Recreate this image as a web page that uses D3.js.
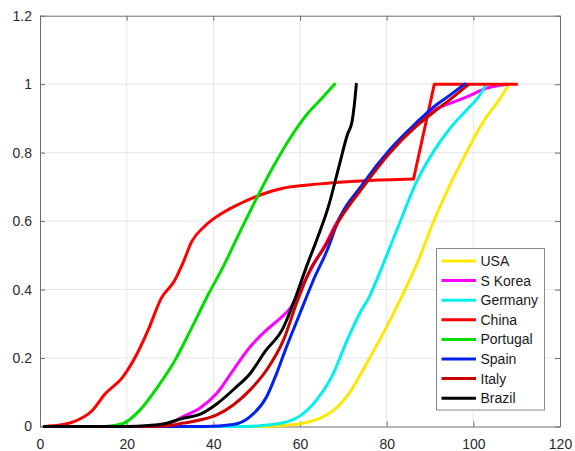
<!DOCTYPE html>
<html>
<head>
<meta charset="utf-8">
<script src="https://cdnjs.cloudflare.com/ajax/libs/d3/7.8.5/d3.min.js"></script>
<style>
  body { margin: 0; background: #fff; }
  #chart { width: 575px; height: 451px; }
</style>
</head>
<body>
<div id="chart"></div>
<script>
// days since start and normalised cumulative value
let usaDays = [1, 52, 56, 60, 63.8, 67.7, 71.5, 75.4, 79.2, 83.1, 86.9, 90.8, 94.6, 98.5, 102.3, 106.2, 108.1];
let usaVals = [0, 0, 0.003, 0.008, 0.02, 0.047, 0.1, 0.185, 0.272, 0.37, 0.472, 0.598, 0.706, 0.803, 0.89, 0.959, 0.997];

let koreaDays = [1, 25, 29, 33, 35.4, 37, 40.8, 44.6, 48.5, 52.3, 55.4, 57.7, 60, 63.1, 66.2, 68, 74.6, 80.8, 86.9, 91, 94.6, 98.5, 103, 107.7];
let koreaVals = [0, 0, 0.005, 0.029, 0.043, 0.055, 0.097, 0.165, 0.233, 0.282, 0.316, 0.345, 0.399, 0.472, 0.54, 0.585, 0.708, 0.806, 0.883, 0.925, 0.944, 0.963, 0.988, 1];

let germanyDays = [1, 48, 52, 56.2, 60, 63.8, 67.7, 70.8, 73.8, 76.2, 77.7, 80, 83.1, 86.9, 90.8, 94.6, 98.5, 101.5, 102.7];
let germanyVals = [0, 0, 0.004, 0.011, 0.031, 0.077, 0.155, 0.25, 0.331, 0.384, 0.428, 0.5, 0.598, 0.715, 0.803, 0.871, 0.925, 0.968, 0.993];

let chinaDays = [1, 3, 5, 8, 12, 15, 19, 22, 25, 28, 31, 33, 35, 38, 42, 46, 51, 56, 64, 75, 86.2, 91, 110];
let chinaVals = [0, 0.002, 0.005, 0.015, 0.046, 0.095, 0.143, 0.203, 0.283, 0.375, 0.425, 0.478, 0.54, 0.585, 0.623, 0.65, 0.677, 0.696, 0.708, 0.718, 0.723, 1, 1];

let portugalDays = [1, 15, 19, 23, 27, 31, 35, 39, 42, 46, 50, 54, 58, 62, 65, 68];
let portugalVals = [0, 0, 0.008, 0.047, 0.113, 0.19, 0.288, 0.39, 0.46, 0.565, 0.667, 0.763, 0.848, 0.918, 0.958, 1];

let spainDays = [1, 38, 44.6, 48.5, 52.3, 54.6, 56.9, 60, 63.1, 66.9, 68, 74.6, 80.8, 86.9, 91, 94.6, 98];
let spainVals = [0, 0, 0.006, 0.029, 0.087, 0.155, 0.233, 0.331, 0.428, 0.535, 0.575, 0.71, 0.81, 0.888, 0.935, 0.968, 1];

let italyDays = [1, 25, 29.2, 33.1, 36.9, 40.8, 44.6, 48.5, 52.3, 56.2, 59.2, 62.3, 66.2, 68, 74.6, 80.8, 86.9, 91, 94.6, 98.8];
let italyVals = [0, 0, 0.002, 0.01, 0.019, 0.034, 0.063, 0.107, 0.165, 0.253, 0.36, 0.457, 0.535, 0.58, 0.7, 0.8, 0.878, 0.92, 0.955, 0.998];

let brazilDays = [1, 20, 25, 29, 33, 37, 41, 45, 48.5, 52, 56, 59, 61.5, 64, 66.5, 69, 71, 72, 72.5, 73];
let brazilVals = [0, 0, 0.003, 0.009, 0.024, 0.036, 0.068, 0.112, 0.155, 0.22, 0.285, 0.378, 0.467, 0.55, 0.64, 0.76, 0.855, 0.89, 0.935, 1];

let countries = ["USA", "S Korea", "Germany", "China", "Portugal", "Spain", "Italy", "Brazil"];
let xTicks = [0, 20, 40, 60, 80, 100, 120];
let yTicks = [0, 0.2, 0.4, 0.6, 0.8, 1, 1.2];

function drawChart() {
  var W = 575,
    H = 451;
  var margin = { top: 15.7, right: 15, bottom: 24.5, left: 40 },
    width = W - margin.left - margin.right,
    height = H - margin.top - margin.bottom;

  // sharpFrom: index after which the line is drawn straight (China's step to 1)
  var series = [
    { name: "USA", days: usaDays, vals: usaVals, color: "#ffe800" },
    { name: "S Korea", days: koreaDays, vals: koreaVals, color: "#ff00ff" },
    { name: "Germany", days: germanyDays, vals: germanyVals, color: "#00f0f0" },
    { name: "China", days: chinaDays, vals: chinaVals, color: "#ff0000", sharpFrom: 20 },
    { name: "Portugal", days: portugalDays, vals: portugalVals, color: "#00dd00" },
    { name: "Spain", days: spainDays, vals: spainVals, color: "#0022ee" },
    { name: "Italy", days: italyDays, vals: italyVals, color: "#cc0000" },
    { name: "Brazil", days: brazilDays, vals: brazilVals, color: "#000000" }
  ];

  var svg = d3
    .select("#chart")
    .append("svg")
    .attr("width", W)
    .attr("height", H)
    .style("font-family", "'Liberation Sans', Arial, sans-serif")
    .append("g")
    .attr("transform", "translate(" + margin.left + "," + margin.top + ")");

  //////////
  // SCALES + GRID //
  //////////
  var x = d3.scaleLinear().domain([0, 120]).range([0, width]);
  var y = d3.scaleLinear().domain([0, 1.2]).range([height, 0]);

  svg
    .append("g")
    .selectAll("line")
    .data(xTicks.slice(1, -1))
    .enter()
    .append("line")
    .attr("x1", d => x(d))
    .attr("x2", d => x(d))
    .attr("y1", 0)
    .attr("y2", height)
    .style("stroke", "#e6e6e6");
  svg
    .append("g")
    .selectAll("line")
    .data(yTicks.slice(1, -1))
    .enter()
    .append("line")
    .attr("x1", 0)
    .attr("x2", width)
    .attr("y1", d => y(d))
    .attr("y2", d => y(d))
    .style("stroke", "#e6e6e6");

  //////////
  // AXES (ticks inside, box all round) //
  //////////
  function styleAxis(g) {
    g.select(".domain").style("stroke", "#6e6e6e");
    g.selectAll(".tick line").style("stroke", "#6e6e6e");
    g.selectAll(".tick text").style("fill", "#2a2a2a").style("font-size", "14px");
  }
  svg
    .append("g")
    .attr("transform", "translate(0," + height + ")")
    .call(d3.axisBottom(x).tickValues(xTicks).tickSizeInner(-5).tickSizeOuter(0).tickPadding(13))
    .call(styleAxis);
  svg
    .append("g")
    .call(d3.axisLeft(y).tickValues(yTicks).tickFormat(d3.format("~g")).tickSizeInner(-5).tickSizeOuter(0).tickPadding(8))
    .call(styleAxis);
  svg
    .append("g")
    .call(d3.axisTop(x).tickValues(xTicks).tickFormat("").tickSizeInner(-5).tickSizeOuter(0))
    .call(styleAxis);
  svg
    .append("g")
    .attr("transform", "translate(" + width + ",0)")
    .call(d3.axisRight(y).tickValues(yTicks).tickFormat("").tickSizeInner(-5).tickSizeOuter(0))
    .call(styleAxis);

  //////////
  // LINES //
  //////////
  var smooth = d3
    .line()
    .x(p => x(p[0]))
    .y(p => y(p[1]))
    .curve(d3.curveMonotoneX);
  var straight = d3
    .line()
    .x(p => x(p[0]))
    .y(p => y(p[1]));

  series.forEach(s => {
    var pts = s.days.map((d, i) => [d, s.vals[i]]);
    var paths = [pts];
    if (s.sharpFrom) {
      // smooth part then a straight step; join at the same point
      paths = [pts.slice(0, s.sharpFrom + 1), pts.slice(s.sharpFrom)];
    }
    paths.forEach((p, k) => {
      svg
        .append("path")
        .datum(p)
        .attr("d", k === 0 ? smooth : straight)
        .style("fill", "none")
        .style("stroke", s.color)
        .style("stroke-width", 3)
        .style("stroke-linejoin", "round")
        .style("stroke-linecap", "round");
    });
  });

  //////////
  // LEGEND //
  //////////
  var lx = 396.5,
    ly = 232.8,
    rowH = 19.6;
  var legend = svg.append("g").attr("transform", "translate(" + lx + "," + ly + ")");
  legend
    .append("rect")
    .attr("width", 108)
    .attr("height", 161.5)
    .style("fill", "#fff")
    .style("stroke", "#8a8a8a");
  var rows = legend
    .selectAll("g.row")
    .data(countries)
    .enter()
    .append("g")
    .attr("class", "row")
    .attr("transform", (d, i) => "translate(0," + (12.5 + i * rowH) + ")");
  rows
    .append("line")
    .attr("x1", 5)
    .attr("x2", 39.5)
    .style("stroke", d => series.find(s => s.name === d).color)
    .style("stroke-width", 3);
  rows
    .append("text")
    .attr("x", 44)
    .attr("dy", "0.36em")
    .style("font-size", "14px")
    .style("fill", "#1a1a1a")
    .text(d => d);
}
drawChart();
</script>
</body>
</html>
